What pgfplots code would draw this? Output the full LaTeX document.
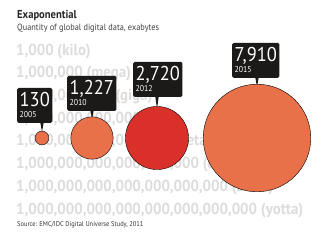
\documentclass[border=0pt]{standalone}
\usepackage{fontspec}
\setmainfont{PT Sans}
\newfontfamily\cond[FakeStretch=0.92]{PT Sans}
\newfontfamily\bgf[FakeStretch=0.93]{PT Sans Bold}
\usepackage{pgfplots}
\pgfplotsset{compat=1.18}
\definecolor{bubor}{HTML}{E8714A}
\definecolor{bubred}{HTML}{D9302A}
\definecolor{bggrey}{HTML}{DCDCDC}
\definecolor{boxblk}{HTML}{1C1A18}
\tikzset{bgtxt/.style={anchor=base west, inner sep=0pt, text=bggrey, font=\bgf\fontsize{16bp}{18bp}\selectfont},
  lbox/.style={anchor=south west, fill=boxblk, rounded corners=1.5bp, text=white, minimum height=35bp, inner sep=2.5bp, align=left, font=\cond}}
\newcommand{\lab}[2]{{\fontsize{20bp}{19bp}\selectfont #1}\\[-1bp]{\fontsize{8.5bp}{9bp}\selectfont #2}}
\begin{document}
\begin{tikzpicture}
\begin{axis}[
  scale only axis, width=332bp, height=245bp,
  xmin=0, xmax=332, ymin=0, ymax=245, y dir=reverse,
  hide axis, clip=false,
]
% background scale text
\node[bgtxt] at (axis cs:16,55) {1,000 (kilo)};
\node[bgtxt] at (axis cs:16,77.7) {1,000,000 (mega)};
\node[bgtxt] at (axis cs:16,100.4) {1,000,000,000 (giga)};
\node[bgtxt] at (axis cs:16,123.1) {1,000,000,000,000 (tera)};
\node[bgtxt] at (axis cs:16,145.9) {1,000,000,000,000,000 (peta)};
\node[bgtxt] at (axis cs:16,168.6) {1,000,000,000,000,000,000 (exa)};
\node[bgtxt] at (axis cs:16,191.3) {1,000,000,000,000,000,000,000 (zetta)};
\node[bgtxt] at (axis cs:16,214) {1,000,000,000,000,000,000,000,000 (yotta)};
% bubbles: area proportional to exabytes (radius = 0.607*sqrt(value) px)
\addplot[only marks, mark=*, draw=none, fill=bubor, mark options={draw=none, fill=bubor}, mark size={0.607*sqrt(130)}] coordinates {(42,138)};
\addplot[only marks, mark=*, draw=none, fill=bubor, mark options={draw=none, fill=bubor}, mark size={0.607*sqrt(1227)}] coordinates {(92,138)};
\addplot[only marks, mark=*, draw=none, fill=bubred, mark options={draw=none, fill=bubred}, mark size={0.607*sqrt(2720)}] coordinates {(157,138)};
\addplot[only marks, mark=*, draw=none, fill=bubor, mark options={draw=none, fill=bubor}, mark size={0.607*sqrt(7910)}] coordinates {(257,138)};
% title
\node[anchor=base west, inner sep=0pt, font=\cond\bfseries\fontsize{11.5bp}{12bp}\selectfont, text=black!85] at (axis cs:17,18) {Exaponential};
\node[anchor=base west, inner sep=0pt, font=\cond\fontsize{9bp}{10bp}\selectfont, text=black!75] at (axis cs:17,30) {Quantity of global digital data, exabytes};
\node[anchor=base west, inner sep=0pt, font=\cond\fontsize{7bp}{7bp}\selectfont, text=black!80] at (axis cs:17,226) {Source: EMC/IDC Digital Universe Study, 2011};
% label boxes
\fill[boxblk] (axis cs:40.2,122) -- (axis cs:42,132) -- (axis cs:43.8,122) -- cycle;
\node[lbox, minimum width=33bp] at (axis cs:17,123) {\lab{130}{2005}};
\fill[boxblk] (axis cs:90.2,110) -- (axis cs:92,119) -- (axis cs:93.8,110) -- cycle;
\node[lbox, minimum width=45bp] at (axis cs:67,111) {\lab{1,227}{2010}};
\fill[boxblk] (axis cs:155.2,96) -- (axis cs:157,109) -- (axis cs:158.8,96) -- cycle;
\node[lbox, minimum width=44bp] at (axis cs:133,97) {\lab{2,720}{2012}};
\fill[boxblk] (axis cs:255.2,77) -- (axis cs:257,87) -- (axis cs:258.8,77) -- cycle;
\node[lbox, minimum width=45bp] at (axis cs:232,78) {\lab{7,910}{2015}};
\end{axis}
\pgfresetboundingbox
\path[use as bounding box] (current axis.south west) rectangle (current axis.north east);
\end{tikzpicture}
\end{document}
